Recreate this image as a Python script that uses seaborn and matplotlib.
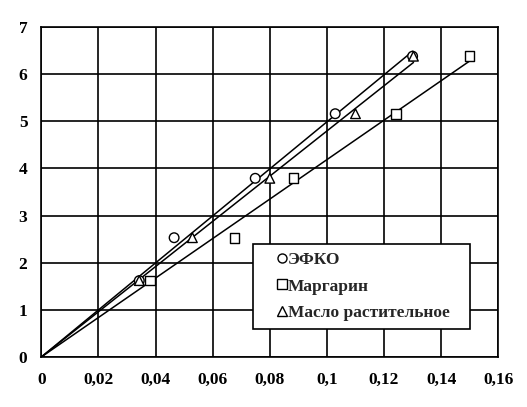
import numpy as np
import pandas as pd
import seaborn as sns
import matplotlib
matplotlib.use("Agg")
import matplotlib.pyplot as plt
from matplotlib.lines import Line2D
from matplotlib.ticker import FuncFormatter

series_names = ["ЭФКО", "Маргарин", "Масло растительное"]
markers = ["o", "s", "^"]
y_vals = [1.62, 2.53, 3.79, 5.16, 6.38]
x_efko = [0.0343, 0.0465, 0.0749, 0.1029, 0.130]
x_marg = [0.038, 0.0676, 0.0883, 0.1242, 0.1499]
x_oil = [0.0343, 0.0529, 0.080, 0.110, 0.1303]
x_ticks = [0, 0.02, 0.04, 0.06, 0.08, 0.10, 0.12, 0.14, 0.16]
y_ticks = [0, 1, 2, 3, 4, 5, 6, 7]

sns.set_theme(style="white")
plt.rcParams["font.family"] = ["Liberation Serif", "DejaVu Serif"]

fig = plt.figure(figsize=(5.27, 4.07), dpi=100)
ax = fig.add_axes([0.0784, 0.1229, 0.8671, 0.8108])

rows = []
for name, xs in zip(series_names, [x_efko, x_marg, x_oil]):
    for x, y in zip(xs, y_vals):
        rows.append({"x": x, "y": y, "series": name})
df = pd.DataFrame(rows)

# trend lines through origin (least squares)
line_rows = []
for name, xs in zip(series_names, [x_efko, x_marg, x_oil]):
    xa = np.array(xs); ya = np.array(y_vals)
    k = (xa * ya).sum() / (xa * xa).sum()
    for x in [0.0, xa.max()]:
        line_rows.append({"x": x, "y": k * x, "series": name})
ldf = pd.DataFrame(line_rows)

for name in series_names:
    sub = ldf[ldf.series == name]
    sns.lineplot(data=sub, x="x", y="y", ax=ax, color="black", lw=1.1,
                 legend=False, zorder=3)

sns.scatterplot(data=df, x="x", y="y", style="series", markers=dict(zip(series_names, markers)),
                ax=ax, s=48, facecolor="white", edgecolor="black", linewidth=1.0,
                legend=False, zorder=4)

ax.set_xlim(0, 0.16)
ax.set_ylim(0, 7)
ax.set_xticks(x_ticks)
ax.set_yticks(y_ticks)
ax.xaxis.set_major_formatter(FuncFormatter(lambda v, p: ("%g" % round(v, 4)).replace(".", ",")))
ax.grid(True, color="black", lw=1.2)
for s in ax.spines.values():
    s.set_color("black")
    s.set_linewidth(1.2)
ax.tick_params(axis="both", length=0, labelsize=12.5, colors="black")
ax.tick_params(axis="x", pad=11)
ax.tick_params(axis="y", pad=10)
for lab in ax.get_xticklabels() + ax.get_yticklabels():
    lab.set_fontweight("bold")
ax.set_xlabel("")
ax.set_ylabel("")

handles = [Line2D([], [], marker=m, ls="none", markerfacecolor="white",
                  markeredgecolor="black", markersize=6.5, markeredgewidth=1.0)
           for m in markers]
leg = ax.legend(handles, series_names, loc="lower left", bbox_to_anchor=(0.464, 0.085, 0.474, 0.244),
                mode="expand", frameon=True, fancybox=False, framealpha=1, borderaxespad=0,
                handlelength=2.4, handletextpad=-0.85,
                borderpad=0.45, labelspacing=0.6, prop={"size": 12.5, "weight": "bold"})
leg.get_frame().set_edgecolor("black")
leg.get_frame().set_linewidth(1.2)
leg.set_zorder(10)

fig.savefig("out.png", dpi=100, facecolor="white")
